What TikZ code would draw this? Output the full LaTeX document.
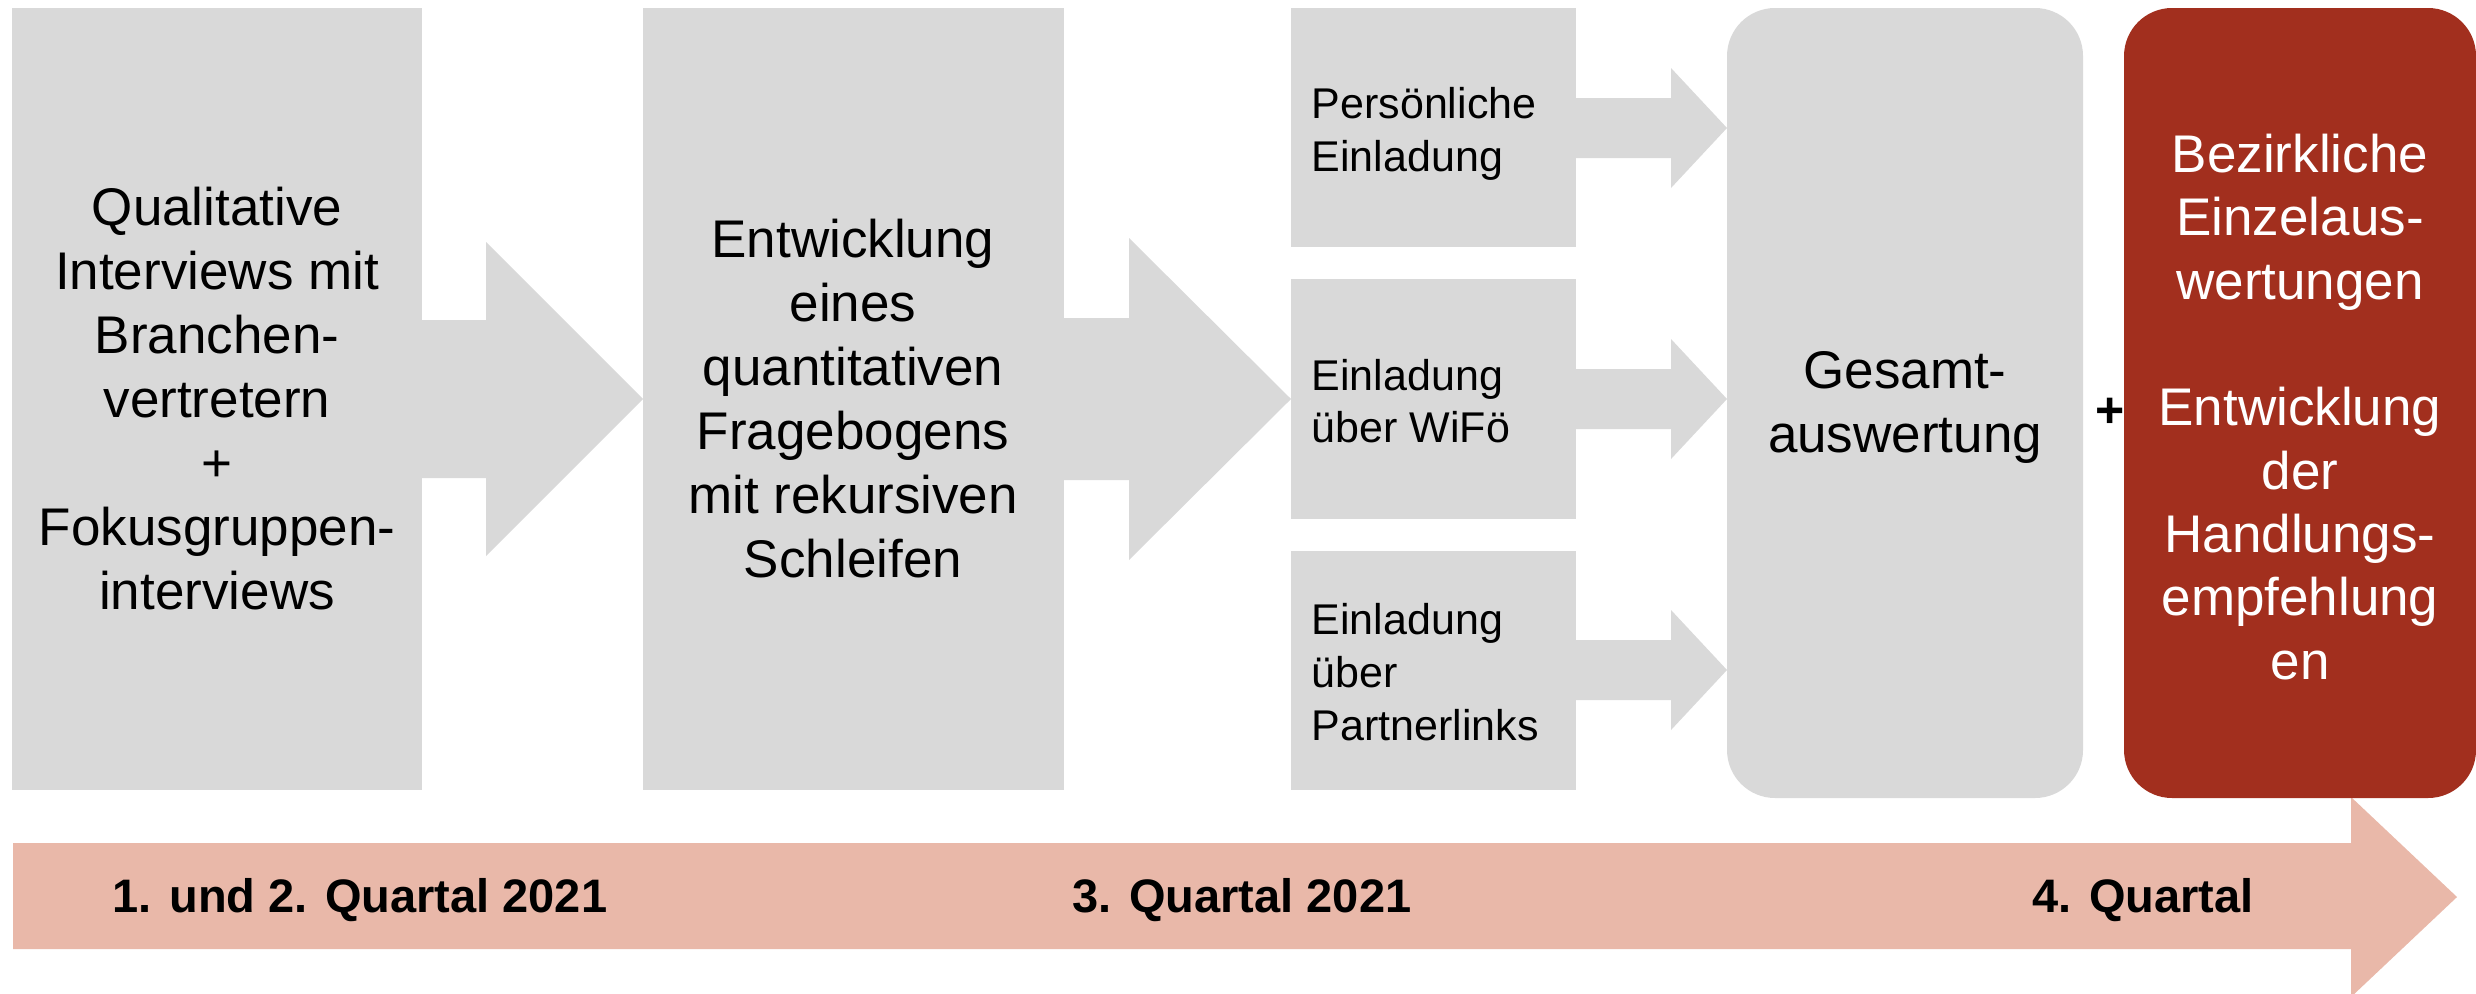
\documentclass[tikz,border=0pt]{standalone}
\usepackage{fontspec}
\setmainfont{Liberation Sans}
\tikzset{every picture/.style={line width=0.75pt}}

\begin{document}
\begin{tikzpicture}[x=0.3pt,y=0.3pt,yscale=-1,xscale=1,
    greyfill/.style={fill={rgb, 255:red, 217; green, 217; blue, 217 }},
    rustfill/.style={fill={rgb, 255:red, 162; green, 47; blue, 30 }},
    salmonfill/.style={fill={rgb, 255:red, 233; green, 184; blue, 169 }},
    bigtext/.style={inner sep=0.75pt, align=center, font=\fontsize{15.9}{19.2}\selectfont},
    smalltext/.style={anchor=west, inner sep=0.75pt, align=left, font=\fontsize{12.9}{15.8}\selectfont},
    quartertext/.style={inner sep=0.75pt, font=\fontsize{14.1}{17}\selectfont\bfseries}]
\useasboundingbox (0,0) rectangle (2476,993);
\clip (0,0) rectangle (2476,993);

%Right Arrow (timeline)
\fill [salmonfill] (13,843) -- (2351,843) -- (2351,797) -- (2457,897) -- (2351,997) -- (2351,949) -- (13,949) -- cycle ;

%Right Arrow
\fill [greyfill] (422,320) -- (486,320) -- (486,242) -- (643,399) -- (486,556) -- (486,478) -- (422,478) -- cycle ;
%Right Arrow
\fill [greyfill] (1064,318) -- (1129,318) -- (1129,238) -- (1291,399) -- (1129,560) -- (1129,480) -- (1064,480) -- cycle ;
%Right Arrows into the evaluation box
\foreach \ym in {128,399,670} {
  \fill [greyfill] (1576,\ym-30) -- (1671,\ym-30) -- (1671,\ym-60) -- (1727,\ym) -- (1671,\ym+60) -- (1671,\ym+30) -- (1576,\ym+30) -- cycle ;
}

%Shape: Rectangle
\fill [greyfill] (12,8) rectangle (422,790) ;
%Shape: Rectangle
\fill [greyfill] (643,8) rectangle (1064,790) ;
%Shape: Rectangle
\fill [greyfill] (1291,8) rectangle (1576,247) ;
%Shape: Rectangle
\fill [greyfill] (1291,279) rectangle (1576,519) ;
%Shape: Rectangle
\fill [greyfill] (1291,551) rectangle (1576,790) ;
%Rounded Rect
\fill [greyfill, rounded corners=14.4pt] (1727,8) rectangle (2083,798) ;
%Rounded Rect
\fill [rustfill, rounded corners=14.4pt] (2124,8) rectangle (2476,798) ;

% Text Node
\node (quali) [bigtext] at (217,399) {Qualitative\\Interviews mit\\Branchen-\\vertretern\\+\\Fokusgruppen-\\interviews};
% Text Node
\node (frage) [bigtext] at (853,399) {Entwicklung\\eines\\quantitativen\\Fragebogens\\mit rekursiven\\Schleifen};
% Text Node
\node (pers) [smalltext] at (1308,134) {Persönliche\\Einladung};
% Text Node
\node (wifo) [smalltext] at (1308,401) {Einladung\\über WiFö};
% Text Node
\node (partner) [smalltext] at (1308,672) {Einladung\\über\\Partnerlinks};
% Text Node
\node (gesamt) [bigtext] at (1905,407) {Gesamt-\\auswertung};
% Text Node
\node (plus) [inner sep=0.75pt, font=\fontsize{15}{17}\selectfont\bfseries] at (2110,413) {+};
% Text Node
\node (bezirk) [bigtext, text=white, font=\fontsize{15.9}{19}\selectfont] at (2300,407) {Bezirkliche\\Einzelaus-\\wertungen\\[19pt]Entwicklung\\der\\Handlungs-\\empfehlung\\en};

% Text Node
\node (q12) [quartertext] at (360,900) {1. und 2. Quartal 2021};
% Text Node
\node (q3) [quartertext] at (1242,900) {3. Quartal 2021};
% Text Node
\node (q4) [quartertext] at (2143,900) {4. Quartal};

\end{tikzpicture}
\end{document}
